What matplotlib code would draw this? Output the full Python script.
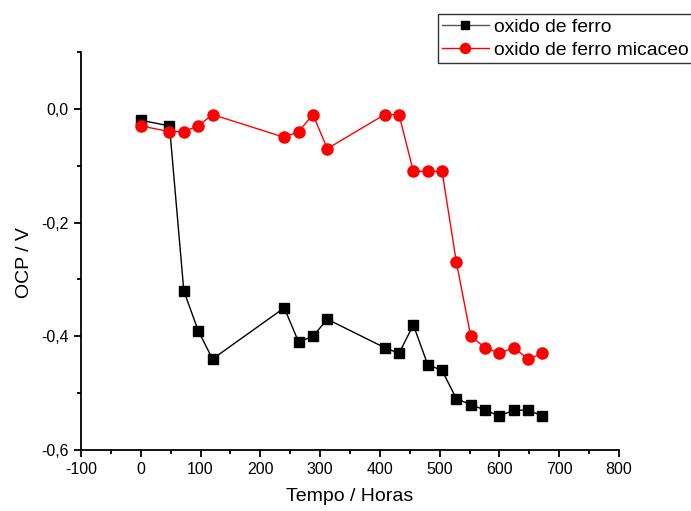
import matplotlib
matplotlib.use("Agg")
import matplotlib.pyplot as plt
from matplotlib.ticker import MultipleLocator, FuncFormatter

plt.rcParams['font.family'] = ['Liberation Sans', 'DejaVu Sans']
plt.rcParams['axes.unicode_minus'] = False

horas = [0, 48, 72, 96, 120, 240, 264, 288, 312, 408, 432, 456, 480, 504,
         528, 552, 576, 600, 624, 648, 672]
ferro = [-0.02, -0.03, -0.32, -0.39, -0.44, -0.35, -0.41, -0.40, -0.37,
         -0.42, -0.43, -0.38, -0.45, -0.46, -0.51, -0.52, -0.53, -0.54,
         -0.53, -0.53, -0.54]
micaceo = [-0.03, -0.04, -0.04, -0.03, -0.01, -0.05, -0.04, -0.01, -0.07,
           -0.01, -0.01, -0.11, -0.11, -0.11, -0.27, -0.40, -0.42, -0.43,
           -0.42, -0.44, -0.43]

fig = plt.figure(figsize=(6.91, 5.11), dpi=100)
ax = fig.add_axes([81 / 691, 1 - 450 / 511, (619 - 81) / 691, (450 - 52) / 511])

ax.plot(horas, ferro, color='black', lw=1, marker='s', ms=6.5,
        mec='black', mfc='black', label='oxido de ferro')
ax.plot(horas, micaceo, color='red', lw=1, marker='o', ms=8,
        mec='red', mfc='red', label='oxido de ferro micaceo')

ax.set_xlim(-100, 800)
ax.set_ylim(-0.6, 0.1)
ax.xaxis.set_major_locator(MultipleLocator(100))
ax.xaxis.set_minor_locator(MultipleLocator(50))
ax.yaxis.set_major_locator(MultipleLocator(0.2))
ax.yaxis.set_minor_locator(MultipleLocator(0.1))
ax.yaxis.set_major_formatter(FuncFormatter(
    lambda v, p: f"{v:.1f}".replace('.', ',').replace('-0,0', '0,0')))

for s in ['top', 'right']:
    ax.spines[s].set_visible(False)
for s in ['left', 'bottom']:
    ax.spines[s].set_linewidth(1.3)
ax.tick_params(which='major', direction='out', length=5, width=1.3,
               labelsize=11.5, pad=4)
ax.tick_params(which='minor', direction='out', length=3, width=1.3)

ax.set_xlabel('Tempo / Horas', fontsize=14)
ax.xaxis.set_label_coords(0.5, -0.095)
ax.set_ylabel('OCP / V', fontsize=14)
ax.yaxis.set_label_coords(-0.09, 0.47)

leg = fig.legend(loc='upper left', bbox_to_anchor=(438 / 691, 1 - 14 / 511),
                 fontsize=13.9, frameon=True, fancybox=False, borderpad=0.22,
                 handlelength=2.4, handletextpad=0.3, labelspacing=0.3,
                 borderaxespad=0, markerscale=0.9)
leg.get_frame().set_edgecolor('black')
leg.get_frame().set_linewidth(1)
leg.legend_handles[0].set_color('#555555')

fig.savefig('out.png', dpi=100)
